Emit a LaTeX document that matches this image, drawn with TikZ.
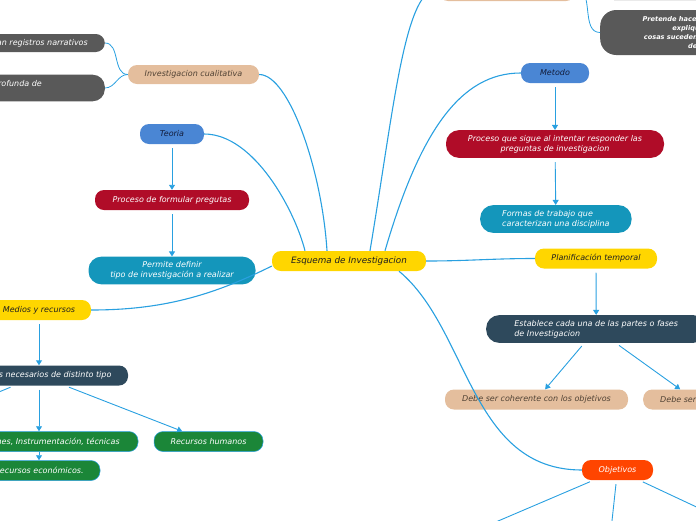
\documentclass[tikz,border=0pt]{standalone}
\usepackage{fontspec}
\setmainfont{DejaVu Sans}
\usetikzlibrary{arrows.meta}
\definecolor{linkc}{RGB}{41,160,224}
\definecolor{peachc}{RGB}{228,190,157}
\definecolor{peachtxt}{RGB}{80,66,52}
\definecolor{darkgc}{RGB}{89,89,89}
\definecolor{slatec}{RGB}{46,73,92}
\definecolor{yelc}{RGB}{255,214,0}
\definecolor{bluc}{RGB}{74,134,212}
\definecolor{navyc}{RGB}{18,28,58}
\definecolor{crimc}{RGB}{176,12,40}
\definecolor{tealc}{RGB}{20,150,187}
\definecolor{grnc}{RGB}{27,134,56}
\definecolor{orngc}{RGB}{255,69,0}

\begin{document}
\begin{tikzpicture}[x=1pt,y=-1pt,
  box/.style={rounded corners=9pt,minimum height=20pt,inner xsep=8pt,inner ysep=5pt,
    align=center,font=\fontsize{8}{10}\selectfont\itshape},
  peach/.style={box,fill=peachc,text=peachtxt},
  darkg/.style={box,fill=darkgc,text=white},
  slate/.style={box,fill=slatec,text=white},
  yel/.style={box,fill=yelc,text=black!88},
  blu/.style={box,fill=bluc,text=navyc},
  crim/.style={box,fill=crimc,text=white},
  tealbox/.style={box,fill=tealc,text=white},
  grn/.style={box,fill=grnc,draw=linkc,line width=0.5pt,text=white},
  orng/.style={box,fill=orngc,text=white},
  link/.style={draw=linkc,line width=1.1pt},
  thin link/.style={draw=linkc,line width=0.8pt},
  arr/.style={draw=linkc,line width=0.9pt,shorten <=4pt,-{Triangle[length=5pt,width=6pt]}}]
\useasboundingbox (0,0) rectangle (696,520);
\clip (0,0) rectangle (696,520);

\node[yel,minimum width=154pt,font=\fontsize{8.8}{10}\selectfont\itshape] (root) at (349,261) {Esquema de Investigacion};

\node[peach,minimum width=136pt,minimum height=26pt] (cuanti) at (507,-12) {};
\node[darkg,anchor=west,minimum width=150pt,minimum height=24pt] (topdark) at (605,-12) {};
\node[darkg,anchor=west,rounded corners=16pt,minimum width=220pt,minimum height=45pt,
  font=\fontsize{6.6}{9}\selectfont\bfseries\itshape] (pretende) at (600,32.5)
  {Pretende hacer un estudio donde se\\explique por qué las\\cosas suceden de la manera en que\\de tal modo};

\node[peach,minimum width=131pt,minimum height=19pt] (cual) at (193.5,74.5) {Investigacion cualitativa};
\node[darkg,anchor=east,inner xsep=17pt,minimum height=18pt] (narr) at (105,43) {Emplean registros narrativos};
\node[darkg,anchor=east,align=left,inner xsep=63pt,rounded corners=12pt] (prof) at (105,88)
  {Busca una comprensión profunda de\\la realidad};

\node[blu,minimum width=64pt] (teoria) at (172,134) {Teoria};
\node[crim,minimum width=154pt] (formular) at (172,200) {Proceso de formular pregutas};
\node[tealbox,minimum width=167pt,rounded corners=13pt] (definir) at (172,270.5)
  {Permite definir\\tipo de investigación a realizar};

\node[yel,minimum width=104pt] (medios) at (39,310) {Medios y recursos};
\node[slate,minimum width=178pt] (necesarios) at (39,375.5) {Recursos necesarios de distinto tipo};
\node[grn,minimum width=198pt] (instal) at (39,441.5) {Instalaciones, Instrumentación, técnicas};
\node[grn,minimum width=122pt] (econ) at (39,470.5) {Recursos económicos.};
\node[grn,minimum width=109pt] (humanos) at (208.5,441.5) {Recursos humanos};
\coordinate (offl) at (-40,408);

\node[blu,minimum width=68pt] (metodo) at (555,73) {Metodo};
\node[crim,minimum width=218pt,rounded corners=13pt] (responder) at (555,144)
  {Proceso que sigue al intentar responder las\\preguntas de investigacion};
\node[tealbox,align=left,anchor=west,minimum width=150pt,inner xsep=22pt,rounded corners=13pt] (formas) at (480,219)
  {Formas de trabajo que\\caracterizan una disciplina};

\node[yel,minimum width=122pt] (plan) at (596,258.5) {Planificación temporal};
\node[slate,align=left,anchor=west,minimum width=220pt,inner xsep=22pt,rounded corners=13pt] (fases) at (486,329)
  {Establece cada una de las partes o fases\\de Investigacion};
\node[peach,minimum width=183pt] (coherente) at (536.5,399.5) {Debe ser coherente con los objetivos};
\node[peach,anchor=west,inner xsep=17pt] (realista) at (643,399.5) {Debe ser realista};

\node[orng,minimum width=71pt] (objetivos) at (617.5,470) {Objetivos};
\coordinate (ob1) at (470,533);
\coordinate (ob2) at (611,530);
\coordinate (ob3) at (720,518);

\draw[link] ([xshift=-44pt]root.north) .. controls +(-10,-40) and +(50,0) .. (teoria.east);
\draw[link] ([xshift=-22pt]root.north) .. controls +(-5,-80) and +(30,0) .. (cual.east);
\draw[link] ([xshift=21pt]root.north) .. controls +(25,-150) and +(-34,0) .. (cuanti.west);
\draw[link] ([xshift=36pt]root.north) .. controls +(35,-120) and +(-60,0) .. (metodo.west);
\draw[link] (root.east) to[out=0,in=180] (plan.west);
\draw[link] ([xshift=50pt]root.south) .. controls +(70,58) and +(-112,0) .. (objetivos.west);
\draw[link] ([yshift=-5pt]root.west) .. controls +(-60,30) and +(70,0) .. (medios.east);

\draw[thin link] (cual.west) to[out=180,in=0] (narr.east);
\draw[thin link] (cual.west) to[out=180,in=0] (prof.east);
\draw[thin link] (cuanti.east) to[out=0,in=180] (pretende.west);
\draw[thin link] (cuanti.east) to[out=0,in=180] (topdark.west);

\draw[arr] (teoria) -- (formular);
\draw[arr] (formular) -- (definir);
\draw[arr] (metodo) -- (responder);
\draw[arr] (responder) -- (formas);
\draw[arr] (plan) -- (fases);
\draw[arr] (fases) -- (coherente);
\draw[arr] (fases) -- (realista);
\draw[arr] (medios) -- (necesarios);
\draw[arr] (necesarios) -- (offl);
\draw[arr] (necesarios) -- (instal);
\draw[arr] (necesarios) -- (humanos);
\draw[arr,shorten <=0pt] (instal) -- (econ);
\draw[arr] (objetivos) -- (ob1);
\draw[arr] (objetivos) -- (ob2);
\draw[arr] (objetivos) -- (ob3);
\end{tikzpicture}
\end{document}
